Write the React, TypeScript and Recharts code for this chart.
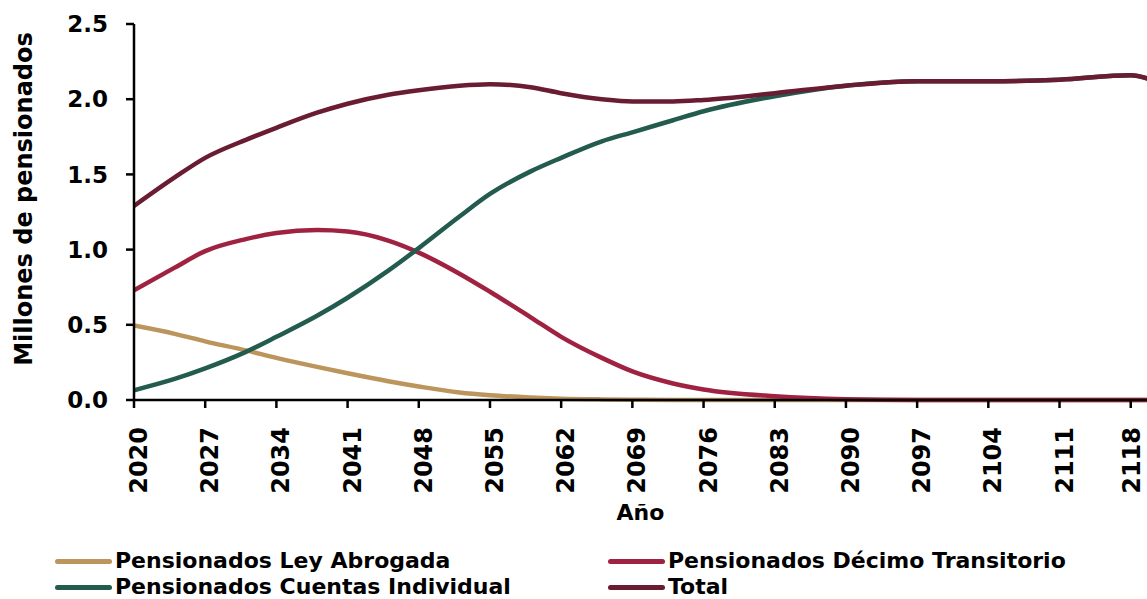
import { LineChart, Line, XAxis, YAxis } from "recharts";

const years = [2020, 2024, 2027, 2031, 2034, 2038, 2041, 2045, 2048, 2052, 2055, 2059, 2062, 2066, 2069, 2073, 2076, 2083, 2090, 2097, 2104, 2111, 2118, 2120];

const leyAbrogada = [0.495, 0.44, 0.39, 0.33, 0.28, 0.22, 0.178, 0.125, 0.09, 0.05, 0.032, 0.017, 0.009, 0.004, 0.002, 0, 0, 0, 0, 0, 0, 0, 0, 0];
const decimoTransitorio = [0.73, 0.88, 0.99, 1.07, 1.11, 1.13, 1.12, 1.06, 0.98, 0.84, 0.72, 0.55, 0.42, 0.28, 0.19, 0.11, 0.07, 0.025, 0.005, 0, 0, 0, 0, 0];
const cuentasIndividual = [0.065, 0.14, 0.21, 0.32, 0.42, 0.56, 0.68, 0.86, 1.01, 1.22, 1.37, 1.52, 1.61, 1.72, 1.78, 1.86, 1.92, 2.02, 2.09, 2.12, 2.12, 2.13, 2.16, 2.13];
const total = [1.29, 1.48, 1.61, 1.73, 1.81, 1.91, 1.97, 2.03, 2.06, 2.09, 2.1, 2.08, 2.04, 2.0, 1.985, 1.985, 1.995, 2.04, 2.09, 2.12, 2.12, 2.13, 2.16, 2.13];

const xTicks = [2020, 2027, 2034, 2041, 2048, 2055, 2062, 2069, 2076, 2083, 2090, 2097, 2104, 2111, 2118];
const yTicks = [0, 0.5, 1, 1.5, 2, 2.5];

const series = [
  { key: "ley", name: "Pensionados Ley Abrogada", color: "#BC955C" },
  { key: "decimo", name: "Pensionados Décimo Transitorio", color: "#9F2241" },
  { key: "cuentas", name: "Pensionados Cuentas Individual", color: "#235B4E" },
  { key: "total", name: "Total", color: "#691C32" },
];

const data = years.map((y, i) => ({
  year: y,
  ley: leyAbrogada[i],
  decimo: decimoTransitorio[i],
  cuentas: cuentasIndividual[i],
  total: total[i],
}));

const FONT = "'DejaVu Sans', sans-serif";

function XTick(props: any) {
  const { x, y, payload } = props;
  // keep the last label inside the page edge
  const tx = Math.min(x + 13, 1140);
  return (
    <text
      x={0}
      y={0}
      transform={`translate(${tx},${y + 17}) rotate(-90)`}
      textAnchor="end"
      fontFamily={FONT}
      fontWeight="bold"
      fontSize={24}
      fill="#000"
    >
      {payload.value}
    </text>
  );
}

function YTitle(props: any) {
  const { viewBox } = props;
  const cx = viewBox.x + 24;
  const cy = viewBox.y + viewBox.height / 2 - 13;
  return (
    <text
      x={cx}
      y={cy}
      transform={`rotate(-90 ${cx} ${cy})`}
      textAnchor="middle"
      dominantBaseline="central"
      fontFamily={FONT}
      fontWeight="bold"
      fontSize={24}
      fill="#000"
    >
      Millones de pensionados
    </text>
  );
}

export default function App() {
  return (
    <div style={{ position: "relative", width: 1147, height: 599, background: "#fff" }}>
      <style>{"body{margin:0}"}</style>
      <LineChart width={1147} height={540} data={data} margin={{ top: 24, right: 0, bottom: 0, left: 0 }}>
        <XAxis
          dataKey="year"
          type="number"
          domain={[2020, 2119.6]}
          allowDataOverflow
          ticks={xTicks}
          interval={0}
          height={140}
          tick={<XTick />}
          tickSize={8}
          stroke="#000"
          strokeWidth={2.5}
          tickLine={{ stroke: "#000", strokeWidth: 2.5 }}
          label={{
            value: "Año",
            position: "insideBottom",
            offset: 20,
            style: { fontFamily: FONT, fontWeight: "bold", fontSize: 22, fill: "#000" },
          }}
        />
        <YAxis
          domain={[0, 2.5]}
          ticks={yTicks}
          interval={0}
          width={134}
          tickSize={8}
          tickMargin={18}
          stroke="#000"
          strokeWidth={2.5}
          tickLine={{ stroke: "#000", strokeWidth: 2.5 }}
          tickFormatter={(v: number) => v.toFixed(1)}
          tick={{ fontFamily: FONT, fontWeight: "bold", fontSize: 23, fill: "#000" }}
          label={<YTitle />}
        />
        {series.map((s) => (
          <Line
            key={s.key}
            type="monotone"
            dataKey={s.key}
            name={s.name}
            stroke={s.color}
            strokeWidth={4.5}
            strokeLinecap="round"
            dot={false}
            activeDot={false}
            isAnimationActive={false}
          />
        ))}
      </LineChart>
      {series.map((s, i) => (
        <div
          key={s.key}
          style={{
            position: "absolute",
            left: i % 2 === 0 ? 55 : 608,
            top: i < 2 ? 550 : 576,
            height: 22,
            lineHeight: "22px",
            display: "flex",
            alignItems: "center",
            fontFamily: FONT,
            fontWeight: "bold",
            fontSize: 22,
            color: "#000",
            whiteSpace: "nowrap",
          }}
        >
          <span
            style={{
              display: "inline-block",
              width: 57,
              height: 5,
              borderRadius: 3,
              background: s.color,
              marginRight: 3,
            }}
          />
          {s.name}
        </div>
      ))}
    </div>
  );
}
